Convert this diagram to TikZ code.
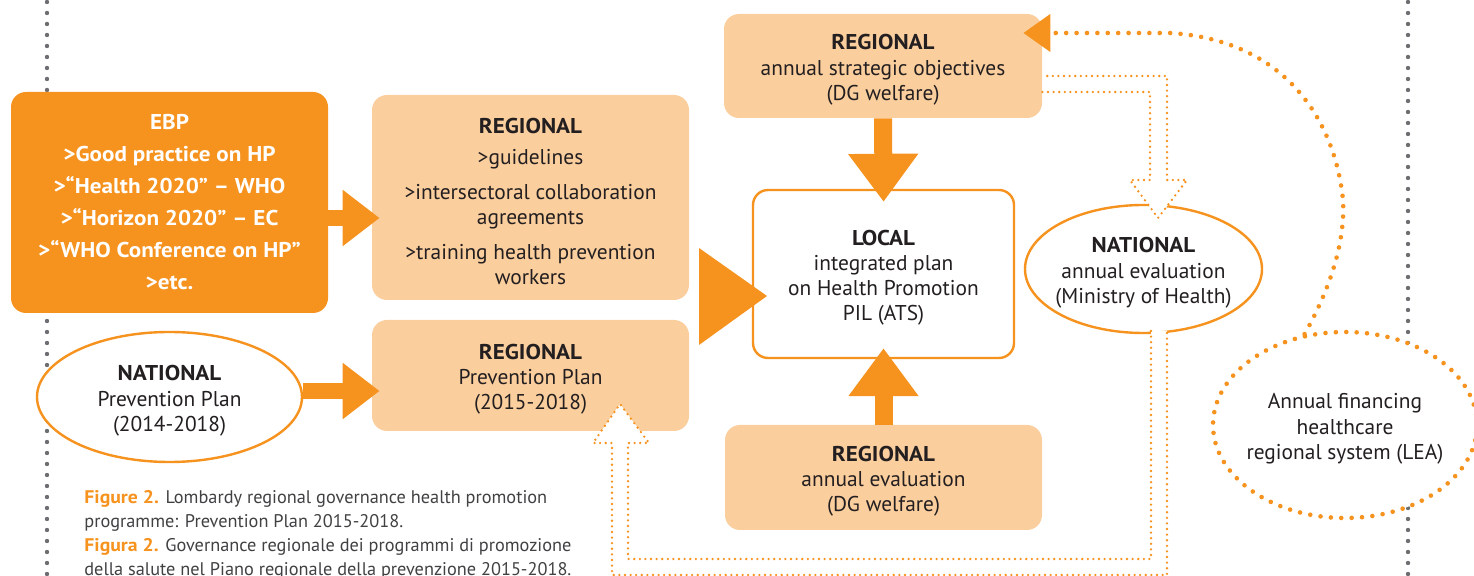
\documentclass[tikz,border=0pt]{standalone}
\usepackage{fontspec}
\setmainfont{PT Sans}[BoldFeatures={FakeStretch=1.08}]
\usetikzlibrary{arrows.meta,shapes.geometric}
\definecolor{ebporange}{RGB}{246,146,30}
\definecolor{reglight}{RGB}{251,206,158}
\definecolor{txtdark}{RGB}{35,31,32}
\definecolor{dotgray}{RGB}{109,110,113}
\definecolor{captgray}{RGB}{65,64,66}
\newcommand\firststrut{\rule{0pt}{11.5pt}}
\newcommand\boxhead[1]{\firststrut\textbf{#1}}
\tikzset{
  boxtext/.style={align=center,text=txtdark,font=\fontsize{10.7}{12.6}\selectfont},
  regbox/.style={boxtext,rectangle,rounded corners=7.5pt,fill=reglight,inner sep=0pt},
  ebpbox/.style={regbox,fill=ebporange,text=white,font=\bfseries\fontsize{10.7}{16}\selectfont},
  localbox/.style={regbox,fill=white,draw=ebporange,line width=1.2pt},
  oval/.style={ellipse,fill=white,draw=ebporange,line width=1.2pt,inner sep=0pt},
  leaoval/.style={ellipse,fill=white,draw=ebporange,line width=2.3pt,line cap=round,dash pattern=on 0pt off 5.2pt,inner sep=0pt},
  blockarrow/.style={draw=ebporange,line width=8pt,-{Triangle[width=27pt,length=18.5pt]}},
  vertarrow/.style={draw=ebporange,line width=9pt,-{Triangle[width=33.5pt,length=24pt]}},
  hollowarrow/.style={draw=ebporange,fill=white,line width=1.3pt,line cap=round,dash pattern=on 0pt off 2.8pt},
  graydots/.style={draw=dotgray,line width=2.2pt,line cap=round,dash pattern=on 0pt off 5.5pt}
}
\begin{document}
\begin{tikzpicture}[x=0.5pt,y=-0.5pt,line join=round]
\useasboundingbox (0,0) rectangle (1474,576);
% side rules
\draw[graydots] (47,2) -- (47,576);
\draw[graydots] (1408,2) -- (1408,576);

% boxes
\node[ebpbox,minimum width=158.5pt,minimum height=110.5pt] (ebp) at (169.5,202.5)
  {EBP\\>Good practice on HP\\>“Health 2020” – WHO\\>“Horizon 2020” – EC\\>“WHO Conference on HP”\\>etc.};
\node[regbox,minimum width=158.5pt,minimum height=102.5pt] (guide) at (530.5,197.5)
  {\boxhead{REGIONAL}\\[3pt]>guidelines\\[5pt]>intersectoral collaboration\\agreements\\[4.5pt]>training health prevention\\workers};
\node[regbox,minimum width=158.5pt,minimum height=55.5pt] (regplan) at (530.5,375.5)
  {\boxhead{REGIONAL}\\Prevention Plan\\(2015-2018)};
\node[oval,minimum width=132.5pt,minimum height=65pt] (natplan) at (169.5,397) {};
\node[boxtext] (natplantxt) at (natplan) {\boxhead{NATIONAL}\\Prevention Plan\\(2014-2018)};
\node[regbox,minimum width=159pt,minimum height=52pt] (objectives) at (883,66)
  {\boxhead{REGIONAL}\\annual strategic objectives\\(DG welfare)};
\node[localbox,minimum width=130.5pt,minimum height=84pt] (local) at (883.5,274)
  {\boxhead{LOCAL}\\integrated plan\\on Health Promotion\\PIL (ATS)};
\node[regbox,minimum width=158.5pt,minimum height=52.5pt] (regeval) at (883.5,477.5)
  {\boxhead{REGIONAL}\\annual evaluation\\(DG welfare)};
\node[oval,minimum width=118.5pt,minimum height=64pt] (nateval) at (1143.5,269) {};
\node[boxtext] (natevaltxt) at (nateval) {\boxhead{NATIONAL}\\annual evaluation\\(Ministry of Health)};
\node[leaoval,minimum width=132pt,minimum height=93pt] (lea) at (1345,425) {};
\node[boxtext] (leatxt) at (lea) {\firststrut Annual financing\\healthcare\\regional system (LEA)};

% block arrows
\draw[blockarrow,shorten >=-4pt] (ebp.east |- 0,218) -- (guide.west |- 0,218);
\draw[blockarrow,shorten >=-4pt] (natplan.east |- 0,391) -- (regplan.west |- 0,391);
\draw[vertarrow,shorten >=-6.5pt] (objectives.south) -- (local.north);
\draw[vertarrow,shorten >=-5.5pt] (regeval.north) -- (local.south);
\fill[ebporange] (699,248) -- (767,296) -- (699,345) -- cycle;

% hollow dotted arrows
\filldraw[hollowarrow] (objectives.east |- 0,92) -- (1150,92) -- (1150,180) -- (1130,180)
  -- (1158,218) -- (1187,180) -- (1167,180) -- (1167,76) -- (objectives.east |- 0,76);
\filldraw[hollowarrow] (1151,331) -- (1151,559) -- (628,559) -- (628,443) -- (649,443)
  -- (620,404) -- (593,443) -- (612,443) -- (612,575) -- (1167,575) -- (1167,331);

% financing loop
\draw[draw=ebporange,line width=2.3pt,line cap=round,dash pattern=on 0pt off 5.2pt,
  -{Triangle[width=18.5pt,length=13.5pt]},shorten >=-9.5pt]
  (lea.114) .. controls (1335,280) and (1345,235) .. (1343,200)
  .. controls (1335,120) and (1285,40) .. (1170,33) -- (objectives.east |- 0,33);

% caption
\node[anchor=north west,align=left,text=captgray,font=\fontsize{9.15}{12}\selectfont,inner sep=0pt] (caption) at (84,490)
  {{\color{ebporange}\bfseries Figure 2.} Lombardy regional governance health promotion\\
   programme: Prevention Plan 2015-2018.\\
   {\color{ebporange}\bfseries Figura 2.} Governance regionale dei programmi di promozione\\
   della salute nel Piano regionale della prevenzione 2015-2018.};
\end{tikzpicture}
\end{document}
